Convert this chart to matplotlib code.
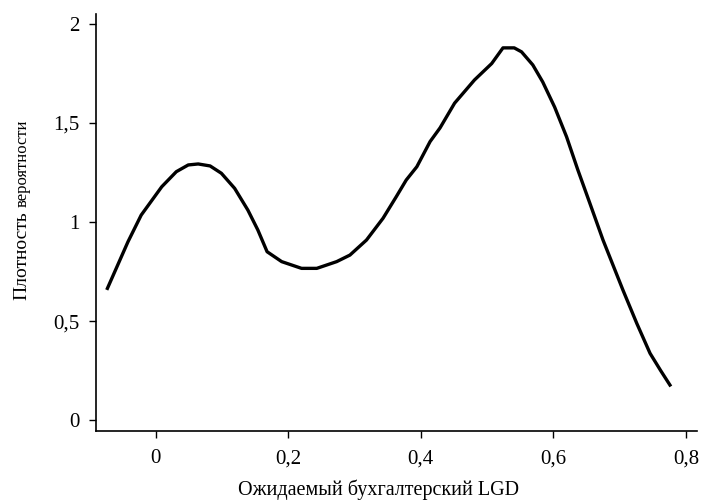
import matplotlib
matplotlib.use('Agg')
import matplotlib.pyplot as plt
from matplotlib.ticker import FuncFormatter
from matplotlib.transforms import offset_copy

# density curve
lgd = [-0.073, -0.042, -0.022, 0.009, 0.031, 0.049, 0.064, 0.082, 0.099, 0.119,
       0.139, 0.154, 0.168, 0.19, 0.22, 0.243, 0.273, 0.293, 0.318, 0.343, 0.363,
       0.378, 0.394, 0.414, 0.429, 0.451, 0.481, 0.507, 0.524, 0.541, 0.552, 0.569,
       0.584, 0.602, 0.620, 0.637, 0.655, 0.675, 0.705, 0.726, 0.746, 0.762, 0.776]
density = [0.665, 0.90, 1.035, 1.178, 1.254, 1.288, 1.293, 1.283, 1.246, 1.17,
           1.06, 0.96, 0.85, 0.80, 0.766, 0.766, 0.80, 0.833, 0.909, 1.019, 1.128,
           1.212, 1.279, 1.406, 1.475, 1.60, 1.717, 1.80, 1.879, 1.879, 1.859, 1.793,
           1.707, 1.58, 1.43, 1.263, 1.096, 0.909, 0.657, 0.488, 0.337, 0.25, 0.177]

xticks = [0, 0.2, 0.4, 0.6, 0.8]
yticks = [0, 0.5, 1, 1.5, 2]

plt.rcParams['font.family'] = ['Liberation Serif', 'DejaVu Serif']

fig = plt.figure(figsize=(7.07, 5), dpi=100)
ax = fig.add_axes([0.136, 0.138, 0.850, 0.834])
ax.plot(lgd, density, color='black', linewidth=2.4, solid_joinstyle='round')

ax.set_xlim(-0.09, 0.817)
ax.set_ylim(-0.055, 2.05)
ax.set_xticks(xticks)
ax.set_yticks(yticks)
fmt = FuncFormatter(lambda v, p: f'{v:g}'.replace('.', ','))
ax.xaxis.set_major_formatter(fmt)
ax.yaxis.set_major_formatter(fmt)
ax.tick_params(labelsize=15, length=5, width=1, direction='out', pad=7)
ax.tick_params(axis='x', pad=8)

for s in ['top', 'right']:
    ax.spines[s].set_visible(False)
for s in ['left', 'bottom']:
    ax.spines[s].set_linewidth(1.2)

fig.text(0.535, 0.010, 'Ожидаемый бухгалтерский LGD', fontsize=14.5,
         ha='center', va='baseline')

# y label: two sizes, like the original
t1 = fig.text(0.038, 0.40, 'Плотность', fontsize=14, rotation=90,
              rotation_mode='anchor', ha='left', va='baseline')
fig.canvas.draw()
h = t1.get_window_extent().height
trans = offset_copy(fig.transFigure, fig=fig, x=0, y=h + 4, units='dots')
fig.text(0.038, 0.40, 'вероятности', fontsize=12, rotation=90,
         rotation_mode='anchor', ha='left', va='baseline', transform=trans)

fig.savefig('out.png', dpi=100)
